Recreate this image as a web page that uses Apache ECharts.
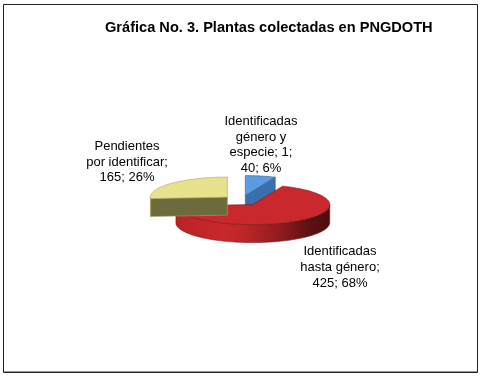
<!DOCTYPE html>
<html lang="es">
<head>
<meta charset="UTF-8">
<title>Plantas colectadas en PNGDOTH</title>
<script src="https://cdn.jsdelivr.net/npm/echarts@6/dist/echarts.min.js"></script>
<style>
  html, body { margin: 0; padding: 0; background: #fff; }
  #chart { width: 481px; height: 377px; }
</style>
</head>
<body>
<div id="chart"></div>
<script>
var categories = ['Identificadas\ngénero y\nespecie; 1', 'Identificadas\nhasta género', 'Pendientes\npor identificar'];
var values = [40, 425, 165];
var percents = [6, 68, 26];

var FONT = '"Liberation Sans", Arial, sans-serif';

// pie geometry, tilted so the circle becomes an ellipse
var CX = 241.5, CY = 200.5, RX = 77, RY = 20, DEPTH = 18, EXPLODE = 0.25;
var START_ANGLE = 0;

var topColors = ['#5b9be0', '#c9282d', '#e9e28c'];
var cutColors = ['#3b6fab', '#8e1c20', '#6d6a3c'];
var edgeColors = ['#2f5f97', '#7a1518', '#a8a264'];
var labelPos = [[261, 145], [340, 267.5], [127, 162]];

var total = values.reduce(function (s, v) { return s + v; }, 0);

function pt(c, deg, dy) {
    var t = deg * Math.PI / 180;
    return [c[0] + RX * Math.sin(t), c[1] - RY * Math.cos(t) + (dy || 0)];
}

function arc(c, from, to, dy) {
    var pts = [];
    var n = Math.max(2, Math.ceil(Math.abs(to - from) / 2));
    for (var i = 0; i <= n; i++) pts.push(pt(c, from + (to - from) * i / n, dy));
    return pts;
}

function renderSlice(params, api) {
    var i = params.dataIndex;
    var before = 0;
    for (var k = 0; k < i; k++) before += values[k];
    var t0 = START_ANGLE + before / total * 360;
    var t1 = t0 + values[i] / total * 360;
    var mid = (t0 + t1) / 2 * Math.PI / 180;
    var c = [CX + EXPLODE * RX * Math.sin(mid), CY - EXPLODE * RY * Math.cos(mid)];
    var children = [];

    function poly(points, fill) {
        children.push({
            type: 'polygon',
            shape: { points: points },
            style: { fill: fill, stroke: edgeColors[i], lineWidth: 0.6 }
        });
    }
    function face(deg) {
        var p = pt(c, deg);
        poly([c, p, [p[0], p[1] + DEPTH], [c[0], c[1] + DEPTH]], cutColors[i]);
    }

    // cut faces, only the ones that look towards the viewer
    if (Math.cos((t0 - 90) * Math.PI / 180) < 0) face(t0);
    if (Math.cos((t1 + 90) * Math.PI / 180) < 0) face(t1);

    // outer wall, front half only. the arc runs right to left so draw it from the left side
    var a = Math.max(t0, 90), b = Math.min(t1, 270);
    if (b > a) {
        poly(arc(c, a, b).concat(arc(c, b, a, DEPTH)), new echarts.graphic.LinearGradient(0, 0, 1, 0, [
            { offset: 0, color: '#b82327' },
            { offset: 0.3, color: '#c9282c' },
            { offset: 0.45, color: '#bc2628' },
            { offset: 0.7, color: '#8a1a1c' },
            { offset: 0.88, color: '#5a1012' },
            { offset: 1, color: '#4c0d0f' }
        ]));
    }

    // top face
    poly([c].concat(arc(c, t0, t1)), topColors[i]);

    children.push({
        type: 'text',
        style: {
            x: labelPos[i][0],
            y: labelPos[i][1],
            text: categories[i] + ';\n' + values[i] + '; ' + percents[i] + '%',
            fill: '#000',
            font: '13px ' + FONT,
            lineHeight: 15.7,
            align: 'center',
            verticalAlign: 'middle'
        }
    });
    return { type: 'group', children: children };
}

var chart = echarts.init(document.getElementById('chart'), null, { renderer: 'canvas' });
chart.setOption({
    animation: false,
    backgroundColor: '#fff',
    title: {
        text: 'Gráfica No. 3. Plantas colectadas en PNGDOTH',
        left: 105,
        top: 20,
        padding: 0,
        textStyle: { fontFamily: FONT, fontSize: 14.6, fontWeight: 'bold', color: '#000' }
    },
    graphic: [{
        type: 'rect',
        shape: { x: 3.5, y: 4.5, width: 474, height: 368 },
        style: { fill: 'none', stroke: '#222', lineWidth: 1 }
    }, {
        type: 'line',
        shape: { x1: 4, y1: 371.5, x2: 477, y2: 371.5 },
        style: { stroke: '#999', lineWidth: 1 }
    }],
    series: [{
        type: 'custom',
        coordinateSystem: 'none',
        data: values,
        renderItem: renderSlice
    }]
});
</script>
</body>
</html>
